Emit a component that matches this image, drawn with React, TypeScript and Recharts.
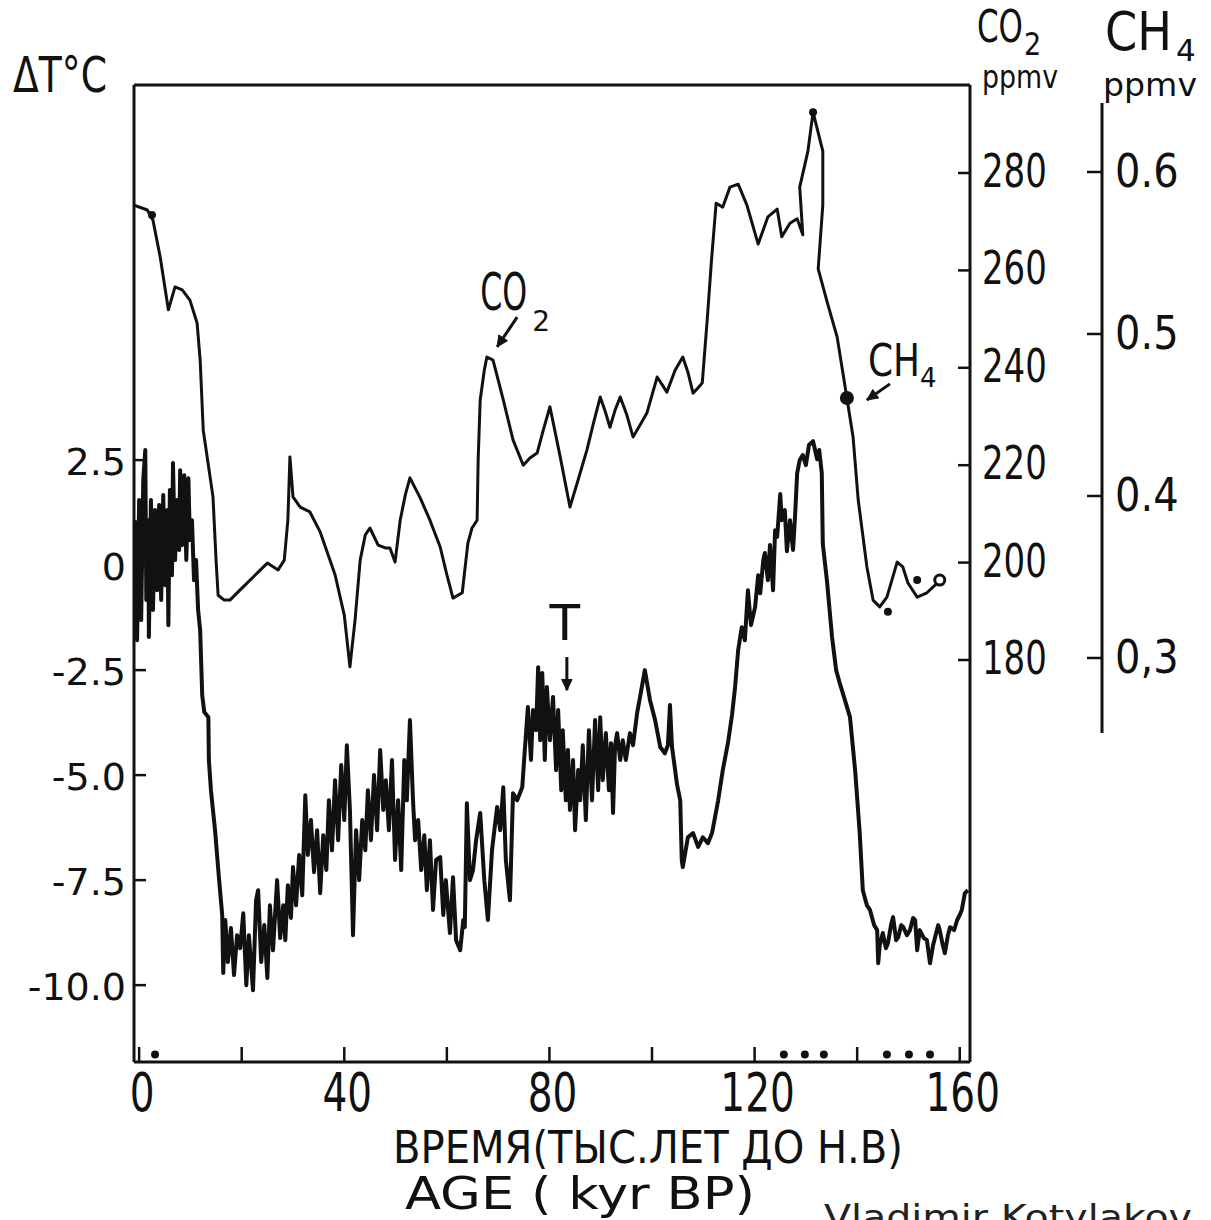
import React from "react";
import {
  ComposedChart,
  Line,
  Scatter,
  XAxis,
  YAxis,
  ReferenceLine,
  ReferenceDot,
} from "recharts";

const INK = "#111";
const FONT = "'DejaVu Sans', 'Noto Sans', sans-serif";

// CO2 curve (age kyr BP -> ppmv)
const co2AgeA = [
  -1.0, 1.6, 2.7, 4.1, 5.7, 7.0, 8.4, 9.9, 11.3, 11.9, 12.5, 13.5, 14.4, 15.0,
  15.4, 16.6, 17.7, 19.7, 22.2, 25.0, 27.1, 28.3, 29.0, 29.4, 30.0, 31.4, 33.3,
  35.3, 38.2, 40.0, 41.1, 42.1, 43.1, 44.1, 45.0, 46.6, 48.0, 48.9, 49.9, 50.9,
  51.9, 52.8, 54.8, 56.7, 58.7, 60.0, 61.2, 63.0, 64.1, 64.9, 65.9, 66.1, 66.5,
  67.3, 67.8, 69.0, 70.0, 71.0, 72.9, 74.9, 76.2, 77.6, 78.8, 80.1,
];
const co2PpmA = [
  273.4, 272.4, 270.3, 262.8, 251.9, 256.6, 256.0, 253.9, 249.2, 241.6, 227.2,
  220.0, 213.5, 200.5, 193.3, 192.3, 192.3, 194.4, 197.0, 199.9, 198.5, 200.5,
  208.7, 221.7, 213.5, 211.4, 210.4, 206.3, 197.5, 189.2, 178.6, 188.2, 200.5,
  205.7, 207.1, 203.6, 203.0, 203.0, 200.1, 208.7, 213.9, 217.4, 213.3, 208.7,
  203.2, 197.5, 192.7, 193.8, 204.0, 207.1, 208.7, 221.1, 233.4, 239.5, 242.2,
  241.6, 237.5, 233.4, 225.2, 220.0, 221.5, 222.5, 227.2, 232.0,
];
const co2AgeB = [
  82.1, 84.0, 85.6, 87.3, 88.5, 89.9, 90.8, 91.8, 92.8, 93.8, 95.1, 96.3, 97.7,
  99.0, 100.0, 101.0, 102.0, 102.9, 104.5, 106.0, 107.0, 108.0, 109.0, 109.8,
  110.8, 111.6, 112.5, 113.8, 115.2, 116.8, 118.5, 120.7, 122.6, 124.4, 125.3,
  126.9, 128.3, 129.4, 128.8, 130.4, 131.4, 133.3, 133.3, 132.4, 134.1, 136.1,
  138.0, 139.2, 140.2, 141.9, 143.1, 144.4, 145.8, 147.8, 148.9, 149.9, 151.7,
  153.6, 155.6, 156.1,
];
const co2PpmB = [
  221.7, 211.4, 217.0, 223.1, 228.3, 234.0, 231.3, 227.8, 231.3, 234.0, 230.3,
  225.8, 228.3, 230.7, 234.4, 238.1, 236.5, 235.0, 239.5, 242.2, 239.1, 234.8,
  235.9, 236.9, 250.4, 262.1, 273.8, 273.0, 277.1, 277.7, 273.4, 265.4, 271.0,
  272.6, 266.9, 269.7, 270.6, 267.3, 277.1, 284.5, 292.5, 284.5, 273.4, 260.3,
  253.7, 246.3, 233.8, 225.8, 212.9, 199.1, 192.3, 190.9, 192.9, 200.1, 199.1,
  195.8, 192.9, 193.8, 195.8, 196.4,
];

// temperature curve (age kyr BP -> delta T, deg C)
const tAgeHolocene = [
  -0.8, -0.4, 0.0, 0.4, 0.8, 1.2, 1.4, 1.8, 1.9, 2.3, 2.7, 3.1, 3.5, 3.9, 4.3,
  4.7, 5.1, 5.5, 5.7, 6.0, 6.4, 6.6, 7.0, 7.4, 7.8, 8.0, 8.4, 8.8, 9.2, 9.6,
  9.9, 10.3, 10.7, 11.1, 11.5, 11.9, 12.3, 12.7, 13.5, 13.6, 14.0, 14.8, 15.6,
  16.2,
];
const tDeltaHolocene = [
  1.07, -1.79, 1.55, -1.31, 2.02, 2.74, -0.83, 1.07, -1.71, 1.55, -1.07, 1.31,
  -0.6, 1.43, -0.83, 1.67, -0.48, 1.31, -1.43, 1.79, -0.24, 2.43, 0.12, 1.55,
  0.36, 2.26, 0.48, 2.14, 0.12, 2.07, 0.6, 1.07, -0.36, 0.12, -1.07, -1.55,
  -3.1, -3.5, -3.62, -4.64, -5.36, -6.31, -7.5, -8.33,
];
const tAgeGlacial = [
  16.4, 16.8, 17.3, 17.9, 18.5, 19.1, 19.7, 20.3, 20.9, 21.4, 22.2, 22.8, 23.2,
  23.8, 24.4, 25.0, 25.5, 26.1, 26.9, 27.5, 28.1, 28.5, 29.0, 29.6, 30.0, 30.6,
  31.2, 31.8, 32.4, 32.9, 33.5, 34.1, 34.7, 35.3, 35.9, 36.5, 37.0, 37.6, 38.2,
  38.8, 39.4, 40.0, 40.5, 41.1, 41.7, 42.3, 42.9, 43.5, 44.1, 44.6, 45.2, 45.8,
  46.4, 47.0, 47.6, 48.1, 48.7, 49.3, 49.9, 50.5, 51.1, 51.7, 52.2, 52.8, 53.4,
  53.8, 54.4, 55.0, 55.6, 56.1, 56.7, 57.3, 57.9, 58.7, 59.3, 59.8, 60.6, 61.2,
  61.8, 62.6, 63.2, 63.5,
];
const tDeltaGlacial = [
  -9.71, -8.45, -9.45, -8.64, -9.76, -8.81, -9.12, -8.29, -10.0, -8.81, -10.12,
  -7.98, -7.74, -9.45, -8.57, -9.83, -8.1, -9.17, -7.5, -8.88, -8.1, -8.93,
  -7.62, -8.4, -7.19, -8.1, -6.9, -7.86, -5.48, -6.9, -6.07, -7.31, -6.31,
  -7.81, -6.43, -7.26, -5.6, -6.79, -5.12, -6.55, -4.76, -6.07, -4.29, -5.83,
  -8.81, -6.31, -7.5, -6.07, -6.79, -5.36, -6.55, -5.0, -6.31, -4.4, -5.83,
  -5.12, -6.31, -4.64, -7.02, -5.6, -7.26, -4.64, -5.6, -3.69, -5.6, -6.55,
  -6.07, -7.26, -6.43, -7.74, -6.55, -8.21, -7.02, -6.95, -8.33, -7.5, -8.76,
  -7.43, -8.93, -9.17, -8.45, -8.62,
];
const tAgeStage5 = [
  63.9, 64.5, 65.1, 65.7, 66.5, 67.3, 68.0, 68.8, 69.8, 70.4, 71.0, 71.5, 72.3,
  72.9, 73.7, 74.7, 75.2, 75.8, 76.4, 76.8, 77.4, 77.8, 78.2, 78.6, 79.1, 79.5,
  80.1, 80.7, 81.3, 81.7, 82.3, 82.6, 83.2, 83.6, 84.0, 84.6, 85.0, 85.6, 86.0,
  86.5, 87.1, 87.7, 88.3, 88.9, 89.5, 89.9, 90.4, 91.0, 91.6, 92.0, 92.4, 92.8,
  93.2, 93.8, 94.3, 94.9, 95.7, 96.3, 97.1, 97.9, 98.6, 99.6, 100.6, 101.6,
  102.5, 103.1, 103.5, 103.9, 104.9, 105.5, 105.8, 106.0, 107.0, 108.0, 109.0,
  109.9, 110.9, 111.7,
];
const tDeltaStage5 = [
  -5.67, -7.5, -7.26, -6.55, -5.9, -7.5, -8.45, -6.79, -5.76, -6.31, -5.29,
  -7.02, -7.98, -5.43, -5.6, -5.29, -4.4, -3.38, -4.64, -3.45, -3.93, -2.43,
  -4.17, -2.57, -4.64, -2.9, -4.17, -3.14, -4.88, -3.45, -5.36, -3.93, -5.6,
  -4.4, -5.83, -4.64, -6.31, -4.88, -5.6, -4.29, -6.07, -3.93, -5.6, -3.69,
  -5.36, -3.62, -5.12, -4.0, -5.36, -4.24, -5.9, -4.29, -4.0, -4.64, -4.17,
  -4.64, -4.0, -4.29, -3.52, -2.98, -2.5, -3.21, -3.69, -4.33, -4.48, -4.29,
  -3.33, -4.33, -5.24, -5.6, -7.02, -7.19, -6.48, -6.38, -6.71, -6.48, -6.62,
  -6.38,
];
const tAgeEemian = [
  112.9, 113.8, 114.8, 115.6, 116.2, 116.8, 117.5, 118.1, 118.7, 119.3, 120.1,
  120.7, 121.1, 121.7, 122.0, 122.6, 123.0, 123.6, 124.0, 124.4, 125.0, 125.3,
  125.9, 126.3, 126.9, 127.5, 127.9, 128.3, 128.8, 129.4, 130.0, 130.6, 131.4,
  132.2, 132.6, 133.1, 133.3, 134.1, 135.1, 135.9, 136.6, 137.6, 138.6, 139.6,
  140.5, 141.1, 141.9, 142.5, 143.3, 143.9, 144.1, 144.4, 145.0, 145.6, 146.0,
  146.6, 147.0, 147.6, 148.0, 148.6, 149.0, 149.7, 150.3, 150.9, 151.3, 151.7,
  152.2, 153.0, 153.6, 154.2, 154.8, 155.2, 155.8, 156.1, 156.7, 157.1, 157.7,
  158.1, 158.9, 159.5, 160.0, 160.4, 161.0, 161.6,
];
const tDeltaEemian = [
  -5.6, -4.88, -4.24, -3.57, -2.9, -2.02, -1.48, -1.79, -0.6, -1.43, -1.0,
  -0.24, -0.67, 0.12, 0.29, -0.36, 0.48, -0.6, 0.83, 0.67, 1.69, 1.07, 1.31,
  0.33, 1.07, 0.36, 1.19, 2.19, 2.5, 2.62, 2.38, 2.86, 2.95, 2.52, 2.74, 2.19,
  0.5, -0.36, -1.71, -2.5, -2.81, -3.21, -3.62, -4.88, -6.38, -7.74, -8.1,
  -8.21, -8.57, -8.69, -9.48, -9.05, -8.76, -9.12, -9.0, -8.57, -8.38, -8.93,
  -8.86, -8.57, -8.62, -8.81, -8.69, -8.4, -8.45, -9.17, -8.69, -8.88, -8.93,
  -9.48, -9.05, -8.86, -8.57, -8.69, -9.05, -9.24, -8.81, -8.62, -8.69, -8.45,
  -8.33, -8.21, -7.81, -7.74,
];

// single measured points drawn as dots
const markAge = [2.5, 131.4, 146.0, 151.7];
const markPpm = [271.4, 292.5, 189.9, 196.4];
const ch4DotAge = [138.0];
const ch4DotPpm = [233.8];
const openDotAge = [156.1];
const openDotPpm = [196.4];
const axisDotAge = [3.1, 125.7, 129.8, 133.5, 145.8, 150.1, 154.2];
const axisDotT = -11.65;

// axes
const ageDomain = [-1, 162];
const tDomain = [-11.83, 11.43];
const co2Domain = [97.45, 298.07];
const ch4Domain = [0.0506, 0.6537];
const ageTicks = [0, 20, 40, 60, 80, 100, 120, 140, 160];
const ageLabels = [0, 40, 80, 120, 160];
const tTicks = [2.5, 0, -2.5, -5, -7.5, -10];
const tTickText = ["2.5", "0", "-2.5", "-5.0", "-7.5", "-10.0"];
const co2Ticks = [180, 200, 220, 240, 260, 280];
const ch4Ticks = [0.3, 0.4, 0.5, 0.6];
const ch4TickText = ["0,3", "0.4", "0.5", "0.6"];

const zip = (ages: number[], vals: number[], key: string) =>
  ages.map((age, i) => ({ age, [key]: vals[i] }));

const co2Data = [...zip(co2AgeA, co2PpmA, "co2"), ...zip(co2AgeB, co2PpmB, "co2")];
const tempData = [
  ...zip(tAgeHolocene, tDeltaHolocene, "t"),
  ...zip(tAgeGlacial, tDeltaGlacial, "t"),
  ...zip(tAgeStage5, tDeltaStage5, "t"),
  ...zip(tAgeEemian, tDeltaEemian, "t"),
];
const markData = zip(markAge, markPpm, "co2");
const ch4DotData = zip(ch4DotAge, ch4DotPpm, "co2");
const openDotData = zip(openDotAge, openDotPpm, "co2");
const axisDotData = axisDotAge.map((age) => ({ age, t: axisDotT }));

const AgeTick = ({ x, y, payload }: any) =>
  ageLabels.includes(payload.value) ? (
    <text
      transform={`translate(${x + 3},${y}) scale(1,1.35)`}
      textAnchor="middle"
      fontFamily={FONT}
      fontSize={39}
      fill={INK}
    >
      {payload.value}
    </text>
  ) : (
    <g />
  );

const TTick = ({ x, y, payload }: any) => (
  <text x={x} y={y + 15} textAnchor="end" fontFamily={FONT} fontSize={38} fill={INK}>
    {tTickText[tTicks.indexOf(payload.value)]}
  </text>
);

const Co2Tick = ({ x, y, payload }: any) => (
  <text
    transform={`translate(${x},${y + 14}) scale(1,1.35)`}
    textAnchor="start"
    fontFamily={FONT}
    fontSize={34}
    fill={INK}
  >
    {payload.value}
  </text>
);

const Ch4Tick = ({ x, y, payload }: any) => (
  <text
    transform={`translate(${x},${y + 15}) scale(1,1.15)`}
    textAnchor="start"
    fontFamily={FONT}
    fontSize={40}
    fill={INK}
  >
    {ch4TickText[ch4Ticks.indexOf(payload.value)]}
  </text>
);

// hand drawn arrow: line plus filled head at the second point
const Arrow = (p: any) => {
  const { x1, y1, x2, y2 } = p;
  const a = Math.atan2(y2 - y1, x2 - x1);
  const h = 12;
  const lx = x2 - h * Math.cos(a - 0.45);
  const ly = y2 - h * Math.sin(a - 0.45);
  const rx = x2 - h * Math.cos(a + 0.45);
  const ry = y2 - h * Math.sin(a + 0.45);
  return (
    <g>
      <line x1={x1} y1={y1} x2={x2} y2={y2} stroke={INK} strokeWidth={3} />
      <path d={`M${x2},${y2}L${lx},${ly}L${rx},${ry}Z`} fill={INK} stroke={INK} />
    </g>
  );
};

const axisStyle = { stroke: INK, strokeWidth: 3 };
const tickStyle = { stroke: INK, strokeWidth: 2.5 };

export default function App() {
  return (
    <div
      style={{
        position: "absolute",
        left: 0,
        top: 0,
        width: 1211,
        height: 1220,
        background: "#fff",
        overflow: "hidden",
      }}
    >
      <ComposedChart
        width={1211}
        height={1220}
        margin={{ top: 85, right: 0, bottom: 0, left: 0 }}
      >
        <XAxis
          dataKey="age"
          type="number"
          domain={ageDomain}
          allowDataOverflow
          ticks={ageTicks}
          interval={0}
          height={158}
          axisLine={axisStyle}
          tickLine={tickStyle}
          tickSize={-15}
          tickMargin={64}
          tick={AgeTick}
        />
        <YAxis
          yAxisId="t"
          orientation="left"
          type="number"
          width={134}
          domain={tDomain}
          allowDataOverflow
          ticks={tTicks}
          interval={0}
          axisLine={axisStyle}
          tickLine={tickStyle}
          tickSize={-12}
          tickMargin={20}
          tick={TTick}
        />
        <YAxis
          yAxisId="bch4"
          orientation="right"
          type="number"
          width={109}
          domain={ch4Domain}
          allowDataOverflow
          ticks={ch4Ticks}
          interval={0}
          axisLine={{ ...axisStyle, strokeDasharray: "0 18 630 1000" }}
          tickLine={tickStyle}
          tickSize={-15}
          tickMargin={28}
          tick={Ch4Tick}
        />
        <YAxis
          yAxisId="aco2"
          orientation="right"
          type="number"
          width={132}
          domain={co2Domain}
          allowDataOverflow
          ticks={co2Ticks}
          interval={0}
          axisLine={axisStyle}
          tickLine={tickStyle}
          tickSize={-12}
          tickMargin={24}
          tick={Co2Tick}
        />
        <ReferenceLine
          yAxisId="t"
          y={tDomain[1]}
          stroke={INK}
          strokeWidth={3}
          ifOverflow="visible"
        />

        <Line
          data={co2Data}
          dataKey="co2"
          yAxisId="aco2"
          type="linear"
          stroke={INK}
          strokeWidth={3}
          strokeLinejoin="round"
          dot={false}
          isAnimationActive={false}
        />
        <Line
          data={tempData}
          dataKey="t"
          yAxisId="t"
          type="linear"
          stroke={INK}
          strokeWidth={4}
          strokeLinejoin="round"
          dot={false}
          isAnimationActive={false}
        />
        <Scatter
          data={markData}
          dataKey="co2"
          yAxisId="aco2"
          isAnimationActive={false}
          shape={(p: any) => <circle cx={p.cx} cy={p.cy} r={4} fill={INK} />}
        />
        <Scatter
          data={ch4DotData}
          dataKey="co2"
          yAxisId="aco2"
          isAnimationActive={false}
          shape={(p: any) => <circle cx={p.cx} cy={p.cy} r={7} fill={INK} />}
        />
        <Scatter
          data={openDotData}
          dataKey="co2"
          yAxisId="aco2"
          isAnimationActive={false}
          shape={(p: any) => (
            <circle cx={p.cx} cy={p.cy} r={5} fill="#fff" stroke={INK} strokeWidth={3} />
          )}
        />
        <Scatter
          data={axisDotData}
          dataKey="t"
          yAxisId="t"
          isAnimationActive={false}
          shape={(p: any) => <circle cx={p.cx} cy={p.cy} r={4} fill={INK} />}
        />

        {/* annotations */}
        <ReferenceLine
          yAxisId="aco2"
          segment={[
            { x: 73.7, y: 250.4 },
            { x: 69.8, y: 244.3 },
          ]}
          shape={Arrow}
        />
        <ReferenceDot
          yAxisId="aco2"
          x={66.5}
          y={251.9}
          r={0}
          shape={(p: any) => (
            <g fontFamily={FONT} fill={INK}>
              <text
                transform={`translate(${p.cx},${p.cy}) scale(1,1.5)`}
                fontSize={34}
                textLength={47}
                lengthAdjust="spacingAndGlyphs"
              >
                CO
              </text>
              <text transform={`translate(${p.cx + 52},${p.cy + 21})`} fontSize={28}>
                2
              </text>
            </g>
          )}
        />
        <ReferenceLine
          yAxisId="aco2"
          segment={[
            { x: 146.4, y: 236.7 },
            { x: 141.9, y: 233.4 },
          ]}
          shape={Arrow}
        />
        <ReferenceDot
          yAxisId="aco2"
          x={142.1}
          y={238.3}
          r={0}
          shape={(p: any) => (
            <g fontFamily={FONT} fill={INK}>
              <text
                transform={`translate(${p.cx},${p.cy}) scale(1,1.3)`}
                fontSize={34}
                textLength={52}
                lengthAdjust="spacingAndGlyphs"
              >
                CH
              </text>
              <text transform={`translate(${p.cx + 52},${p.cy + 11})`} fontSize={26}>
                4
              </text>
            </g>
          )}
        />
        <ReferenceLine
          yAxisId="t"
          segment={[
            { x: 83.4, y: -2.19 },
            { x: 83.4, y: -2.98 },
          ]}
          shape={Arrow}
        />
        <ReferenceDot
          yAxisId="t"
          x={83.0}
          y={-1.79}
          r={0}
          shape={(p: any) => (
            <text x={p.cx} y={p.cy} textAnchor="middle" fontFamily={FONT} fontSize={50} fill={INK}>
              T
            </text>
          )}
        />
      </ComposedChart>

      <svg
        width={1211}
        height={1220}
        style={{ position: "absolute", left: 0, top: 0, pointerEvents: "none" }}
      >
        <g fontFamily={FONT} fill={INK}>
          <text
            transform="translate(13,92) scale(1,1.3)"
            fontSize={38}
            textLength={94}
            lengthAdjust="spacingAndGlyphs"
          >
            ΔT°C
          </text>
          <text
            transform="translate(977,42) scale(1,1.45)"
            fontSize={31}
            textLength={46}
            lengthAdjust="spacingAndGlyphs"
          >
            CO
          </text>
          <text transform="translate(1024,55) scale(1,1.15)" fontSize={27}>
            2
          </text>
          <text
            transform="translate(982,88) scale(1,1.15)"
            fontSize={28}
            textLength={76}
            lengthAdjust="spacingAndGlyphs"
          >
            ppmv
          </text>
          <text
            transform="translate(1105,50) scale(1,1.2)"
            fontSize={44}
            textLength={67}
            lengthAdjust="spacingAndGlyphs"
          >
            CH
          </text>
          <text transform="translate(1176,61)" fontSize={31}>
            4
          </text>
          <text
            transform="translate(1103,96)"
            fontSize={32}
            textLength={94}
            lengthAdjust="spacingAndGlyphs"
          >
            ppmv
          </text>
          <text
            transform="translate(393,1163) scale(1,1.12)"
            fontSize={40}
            textLength={510}
            lengthAdjust="spacingAndGlyphs"
          >
            ВРЕМЯ(ТЫС.ЛЕТ ДО Н.В)
          </text>
          <text
            transform="translate(405,1209) scale(1,1.05)"
            fontSize={42}
            textLength={350}
            lengthAdjust="spacingAndGlyphs"
          >
            AGE ( kyr BP)
          </text>
          <text
            x={824}
            y={1229}
            fontSize={34}
            textLength={368}
            lengthAdjust="spacingAndGlyphs"
            fill="#222"
          >
            Vladimir Kotylakov
          </text>
        </g>
      </svg>
    </div>
  );
}
